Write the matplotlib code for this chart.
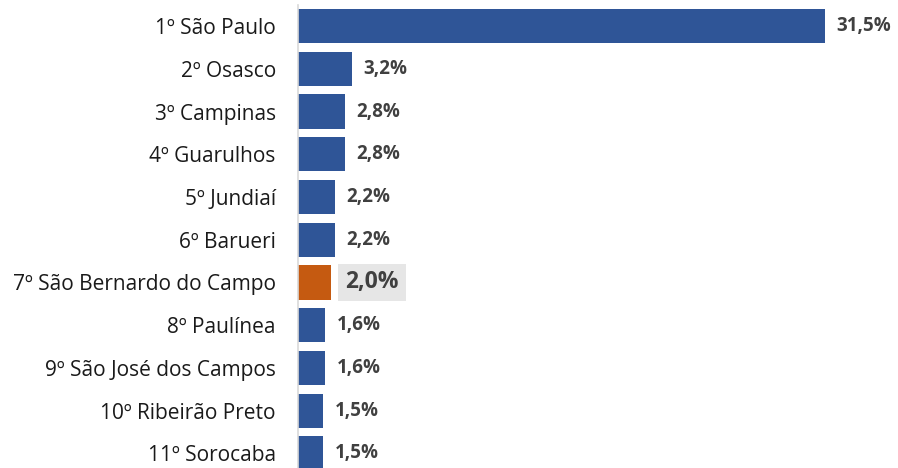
import matplotlib
matplotlib.use("Agg")
import matplotlib.pyplot as plt

categories = ["1º São Paulo", "2º Osasco", "3º Campinas", "4º Guarulhos", "5º Jundiaí",
              "6º Barueri", "7º São Bernardo do Campo", "8º Paulínea",
              "9º São José dos Campos", "10º Ribeirão Preto", "11º Sorocaba"]
values = [31.5, 3.2, 2.8, 2.8, 2.2, 2.2, 2.0, 1.6, 1.6, 1.5, 1.5]
value_labels = ["31,5%", "3,2%", "2,8%", "2,8%", "2,2%", "2,2%", "2,0%", "1,6%", "1,6%", "1,5%", "1,5%"]
highlight = 6

plt.rcParams['font.family'] = ['Open Sans', 'DejaVu Sans']

fig = plt.figure(figsize=(8.98, 4.68), dpi=100)
ax_left = 298 / 898
ax_w = 1 - ax_left
ax_h = 470 / 468
ax_bottom = (468 - 474.7) / 468
ax = fig.add_axes([ax_left, ax_bottom, ax_w, ax_h])

blue = "#2F5597"
orange = "#C55A11"
colors = [orange if i == highlight else blue for i in range(len(values))]
ypos = list(range(len(values)))
ax.barh(ypos, values, height=0.8, color=colors, left=0)
ax.set_ylim(len(values) - 0.5, -0.5)
ax.set_xlim(0, 600 / 16.73)

for i, (v, lab) in enumerate(zip(values, value_labels)):
    if i == highlight:
        ax.annotate(lab, (v, i), xytext=(10, 0), textcoords="offset points",
                    va="center", ha="left", fontsize=16.5, fontweight="bold", color="#404040",
                    bbox=dict(boxstyle="square,pad=0.3", fc="#E6E6E6", ec="none"))
    else:
        ax.annotate(lab, (v, i), xytext=(8.5, 0), textcoords="offset points",
                    va="center", ha="left", fontsize=13.5, fontweight="bold", color="#404040")

ax.set_yticks(ypos)
ax.set_yticklabels(categories, fontsize=15, color="#1a1a1a")
ax.tick_params(axis="y", length=0, pad=16)
ax.set_xticks([])
for s in ["top", "right", "bottom"]:
    ax.spines[s].set_visible(False)
ax.spines["left"].set_color("#D9D9D9")
ax.spines["left"].set_linewidth(1.2)

fig.savefig("out.png", dpi=100)
